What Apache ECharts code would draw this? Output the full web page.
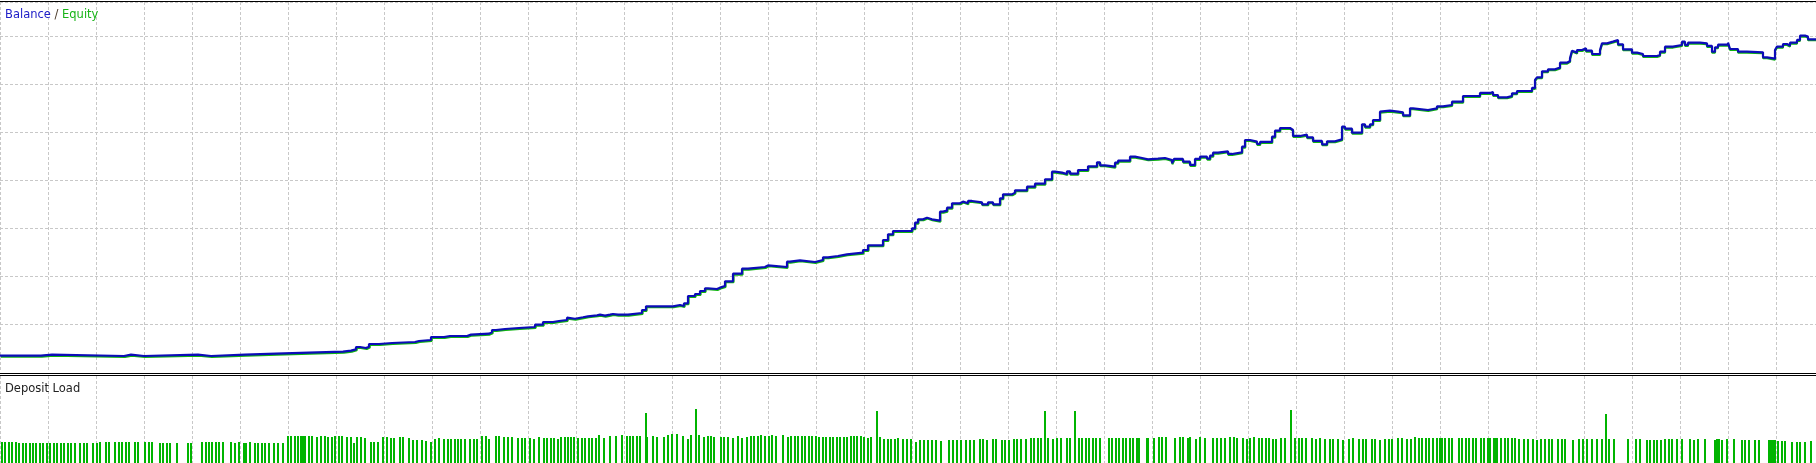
<!DOCTYPE html>
<html>
<head>
<meta charset="utf-8">
<script src="https://cdn.jsdelivr.net/npm/echarts@6/dist/echarts.min.js"></script>
<style>
  html, body { margin: 0; padding: 0; background: #fff; }
  #chart { width: 1816px; height: 463px; }
</style>
</head>
<body>
<div id="chart"></div>
<script>
// deal index (x) and balance after that deal
const balanceDeal = [
  0, 41, 52, 124, 131, 144, 198, 211, 245, 276,
  309, 343, 351, 356, 360, 366, 369, 379, 392, 415,
  419, 431, 444, 450, 452, 467, 471, 489, 492, 496,
  505, 519, 535, 543, 553, 559, 567, 568, 575, 583,
  588, 597, 600, 605, 610, 613, 618, 620, 628, 642,
  646, 673, 680, 684, 688, 695, 700, 705, 708, 717,
  720, 725, 733, 742, 748, 765, 768, 787, 790, 800,
  815, 823, 828, 838, 847, 863, 868, 883, 888, 893,
  912, 915, 918, 923, 927, 932, 940, 943, 947, 952,
  960, 963, 968, 972, 982, 988, 993, 1000, 1003, 1012,
  1015, 1027, 1035, 1045, 1052, 1055, 1062, 1067, 1070, 1078,
  1088, 1097, 1100, 1105, 1115, 1118, 1130, 1135, 1142, 1148,
  1158, 1165, 1172, 1174, 1183, 1190, 1195, 1200, 1207, 1210,
  1213, 1218, 1228, 1232, 1242, 1245, 1250, 1257, 1260, 1272,
  1275, 1280, 1290, 1293, 1300, 1307, 1313, 1322, 1327, 1335,
  1342, 1345, 1352, 1362, 1365, 1370, 1373, 1380, 1382, 1390,
  1398, 1403, 1410, 1413, 1428, 1437, 1443, 1452, 1463, 1480,
  1490, 1493, 1498, 1507, 1512, 1517, 1525, 1527, 1532, 1535,
  1537, 1542, 1548, 1555, 1560, 1567, 1570, 1572, 1574, 1577,
  1582, 1586, 1592, 1600, 1602, 1607, 1613, 1618, 1623, 1632,
  1637, 1643, 1657, 1660, 1665, 1673, 1682, 1685, 1688, 1700,
  1707, 1712, 1715, 1718, 1728, 1730, 1738, 1747, 1763, 1767,
  1775, 1777, 1783, 1787, 1790, 1797, 1800, 1805, 1808, 1816
]
const balance = [
  340, 361, 333, 361, 333, 361, 333, 361, 382, 403,
  424, 444, 472, 521, 500, 528, 583, 604, 625, 646,
  667, 729, 750, 778, 750, 778, 799, 826, 875, 896,
  917, 938, 986, 1042, 1063, 1083, 1132, 1110, 1140, 1160,
  1181, 1194, 1174, 1194, 1208, 1194, 1215, 1194, 1229, 1292,
  1368, 1396, 1375, 1431, 1583, 1625, 1687, 1743, 1729, 1757,
  1792, 1889, 2049, 2153, 2187, 2222, 2187, 2299, 2326, 2292,
  2333, 2389, 2417, 2452, 2486, 2542, 2639, 2750, 2868, 2937,
  2993, 3111, 3181, 3215, 3181, 3153, 3340, 3361, 3423, 3514,
  3549, 3514, 3563, 3535, 3493, 3535, 3493, 3618, 3701, 3736,
  3785, 3861, 3924, 4014, 4174, 4153, 4125, 4181, 4132, 4208,
  4285, 4368, 4306, 4278, 4361, 4403, 4486, 4458, 4431, 4444,
  4458, 4417, 4347, 4438, 4382, 4313, 4438, 4486, 4444, 4507,
  4569, 4597, 4542, 4576, 4694, 4833, 4799, 4750, 4792, 4903,
  5028, 5083, 5042, 4917, 4944, 4889, 4813, 4743, 4806, 4847,
  5111, 5069, 4986, 5160, 5111, 5160, 5250, 5424, 5444, 5424,
  5410, 5347, 5493, 5458, 5493, 5535, 5563, 5632, 5750, 5813,
  5833, 5771, 5722, 5750, 5806, 5854, 5889, 5854, 5917, 6083,
  6139, 6264, 6306, 6340, 6444, 6479, 6535, 6694, 6653, 6708,
  6743, 6694, 6625, 6708, 6847, 6882, 6917, 6826, 6722, 6653,
  6625, 6583, 6604, 6674, 6778, 6813, 6882, 6813, 6861, 6847,
  6792, 6674, 6764, 6819, 6861, 6729, 6674, 6660, 6556, 6528,
  6708, 6778, 6833, 6799, 6861, 6917, 7007, 6986, 6931, 6931
]

// deposit load per deal
const loadDeal = [
  2, 5, 9, 12, 16,
  19, 23, 26, 30, 33, 36, 40,
  43, 47, 50, 54, 57, 61, 64, 68, 71, 75,
  80, 84, 87, 93, 97,
  100, 106, 109, 115, 119, 122, 126, 129, 135, 138, 145, 149, 152,
  160, 163, 167, 170, 177, 188, 191,
  202, 206, 209, 212, 216, 219, 223,
  231, 235, 239, 244, 246, 250,
  255, 258, 262, 265, 269, 274, 278, 283,
  288, 291, 295, 298, 301, 303, 305, 309, 312, 317, 321, 325, 328, 332, 335, 339, 342, 347, 351, 354, 357, 361, 365,
  371, 374, 378,
  383, 387, 391, 394, 400, 403, 409, 413, 417, 422, 426, 431, 435, 439, 444,
  448, 451, 455, 458, 461, 465, 470, 474, 477, 482, 486, 489, 496, 499,
  504, 508, 512, 518, 522, 525, 530, 534, 539, 544, 547, 551, 554, 558,
  561, 565, 568, 571, 574, 578, 582, 585, 589, 592, 596, 599, 604,
  610, 616, 622, 627, 630, 633, 637, 640, 646, 647, 653, 657, 664, 668, 672, 677, 683, 688, 691, 696, 699,
  704, 708, 711, 714, 721, 724, 728, 733, 738, 742, 747, 751, 754, 758, 761, 765, 769, 772, 776,
  783, 788, 791, 795, 798, 802, 805, 809, 812, 816, 819, 823, 826, 830, 833, 837, 840, 844, 847,
  851, 854, 857, 861, 864, 868, 871, 877, 880, 884, 888, 891, 895, 898, 903, 907,
  911, 916, 920, 924, 928, 932, 936, 941, 949, 953, 957, 961, 966, 970, 974,
  980, 983, 987, 993, 996, 1002, 1005, 1009, 1014, 1017, 1021, 1026,
  1031, 1034, 1038, 1041, 1045, 1048, 1053, 1057, 1061, 1067, 1070, 1075,
  1079, 1082, 1086, 1089, 1093, 1096, 1100, 1109, 1112, 1116, 1119, 1123, 1126, 1130, 1133, 1137, 1139,
  1147, 1148, 1154, 1159, 1162, 1166, 1175, 1180, 1183, 1188, 1190, 1196, 1200, 1205,
  1213, 1217, 1221, 1225, 1230, 1234, 1237, 1243, 1247, 1250, 1254,
  1259, 1262, 1266, 1269, 1273, 1276, 1281, 1285, 1291, 1295, 1299, 1302, 1306,
  1312, 1316, 1320, 1325, 1330, 1333, 1338, 1343, 1349, 1353, 1359, 1363, 1366, 1372, 1375, 1380,
  1385, 1389, 1392, 1398, 1402, 1407, 1411, 1415, 1419, 1422, 1426, 1429, 1433,
  1437, 1440, 1442, 1445, 1449, 1452, 1459, 1462, 1466, 1469, 1473, 1476,
  1481, 1484, 1488, 1490, 1494, 1496, 1497, 1501, 1505, 1508, 1512, 1515,
  1519, 1524, 1528, 1533, 1537, 1541, 1545, 1549, 1552, 1558, 1562, 1565,
  1573, 1579, 1583, 1587, 1592, 1597, 1602, 1606, 1609, 1614, 1628, 1636, 1640,
  1647, 1650, 1654, 1657, 1661, 1665, 1669, 1672, 1677, 1682, 1690, 1694, 1698,
  1705, 1715, 1717, 1719, 1722, 1727, 1734, 1742, 1745, 1749, 1755, 1759,
  1769, 1771, 1773, 1775, 1778, 1782, 1785, 1792, 1797, 1800, 1805, 1811
]
const depositLoad = [
  21, 21, 21, 21, 21,
  20, 20, 20, 20, 20, 20, 20,
  20, 20, 20, 20, 20, 20, 20, 20, 20, 20,
  20, 20, 20, 20, 20,
  21, 21, 21, 21, 21, 21, 21, 21, 21, 21, 21, 21, 21,
  20, 20, 20, 20, 20, 20, 20,
  21, 21, 21, 21, 21, 21, 21,
  21, 20, 21, 20, 20, 21,
  20, 20, 20, 20, 20, 20, 20, 20,
  27, 27, 27, 27, 27, 27, 27, 27, 27, 26, 27, 27, 26, 26, 27, 27, 27, 26, 26, 20, 26, 26, 25,
  21, 21, 21,
  26, 26, 25, 25, 26, 26, 25, 23, 23, 23, 22, 21, 24, 25, 24,
  24, 24, 24, 24, 24, 24, 24, 24, 24, 27, 27, 24, 27, 27,
  26, 26, 26, 25, 25, 25, 25, 24, 26, 25, 25, 25, 25, 24,
  26, 26, 26, 26, 26, 25, 25, 25, 25, 25, 25, 28, 25,
  27, 27, 28, 27, 27, 27, 27, 27, 50, 26, 27, 26, 26, 28, 29, 29, 27, 24, 28, 54, 28,
  26, 27, 27, 26, 26, 26, 26, 25, 27, 25, 26, 27, 27, 27, 28, 27, 27, 28, 27,
  28, 26, 27, 27, 27, 27, 27, 27, 27, 27, 26, 26, 26, 26, 26, 26, 26, 26, 26,
  27, 27, 27, 27, 26, 25, 26, 52, 26, 24, 24, 24, 24, 25, 24, 24,
  24, 21, 23, 23, 23, 23, 23, 22, 23, 23, 23, 23, 23, 23, 23,
  24, 24, 23, 24, 24, 23, 23, 23, 24, 24, 24, 24,
  25, 25, 25, 25, 52, 25, 24, 25, 25, 25, 25, 52,
  25, 25, 25, 25, 25, 25, 25, 25, 25, 25, 25, 25, 25, 25, 25, 25, 25,
  25, 25, 25, 26, 26, 26, 25, 26, 26, 25, 26, 24, 26, 25,
  25, 25, 25, 25, 26, 26, 25, 25, 24, 25, 26,
  25, 25, 25, 25, 24, 24, 25, 25, 53, 25, 25, 25, 25,
  25, 24, 25, 24, 24, 24, 24, 23, 24, 25, 24, 24, 24, 24, 24, 23,
  24, 24, 24, 25, 25, 24, 24, 26, 25, 25, 25, 25, 25,
  25, 25, 25, 25, 25, 25, 25, 25, 25, 25, 25, 25,
  25, 25, 25, 25, 25, 25, 25, 25, 25, 25, 25, 25,
  24, 24, 24, 24, 23, 24, 24, 24, 24, 24, 24, 24,
  23, 24, 24, 24, 24, 24, 24, 49, 24, 24, 24, 24, 24,
  23, 23, 23, 23, 23, 24, 24, 24, 24, 24, 24, 23, 24,
  24, 23, 24, 24, 23, 24, 24, 23, 23, 23, 23, 23,
  23, 23, 23, 23, 22, 22, 22, 21, 21, 21, 21, 22
]

const blue = '#0c0cb8'
const green = '#10b410'
const gridColor = '#c8c8c8'

let chart = echarts.init(document.getElementById('chart'), null, { renderer: 'canvas' })

const balanceData = balanceDeal.map((d, i) => [d, balance[i]])
const loadData = loadDeal.map((d, i) => [d, depositLoad[i]])

// shared x scale; the second grid only carries the equity trace
function plainX(grid, withLines) {
  return {
    gridIndex: grid, type: 'value', min: 0, max: 1816, interval: 48,
    show: withLines,
    axisLine: { show: false }, axisTick: { show: false }, axisLabel: { show: false },
    splitLine: { show: withLines, lineStyle: { color: gridColor, width: 1, type: [3, 2] } }
  }
}

var option = {
  animation: false,
  backgroundColor: '#fff',
  title: [{
    text: '{b|Balance} {s|/} {e|Equity}',
    left: 5,
    top: 9,
    padding: 0,
    textStyle: {
      fontFamily: 'DejaVu Sans', fontSize: 11.5, fontWeight: 'normal',
      rich: {
        b: { color: '#2020c8', fontFamily: 'DejaVu Sans', fontSize: 11.5 },
        s: { color: '#4a3a2a', fontFamily: 'DejaVu Sans', fontSize: 11.5 },
        e: { color: '#18b418', fontFamily: 'DejaVu Sans', fontSize: 11.5 }
      }
    }
  }, {
    text: 'Deposit Load',
    left: 5,
    top: 383,
    padding: 0,
    textStyle: { fontFamily: 'DejaVu Sans', fontSize: 11.5, fontWeight: 'normal', color: '#222' }
  }],
  grid: [
    { left: 0, top: 2, width: 1816, height: 370 },
    { left: 1, top: 3, width: 1816, height: 370 },
    { left: 0, top: 376, width: 1816, height: 87 }
  ],
  xAxis: [plainX(0, true), plainX(1, false), plainX(2, true)],
  yAxis: [
    {
      gridIndex: 0, type: 'value', min: 0, max: 7708, interval: 1000,
      axisLine: { show: false }, axisTick: { show: false }, axisLabel: { show: false },
      splitLine: { lineStyle: { color: gridColor, width: 1, type: [3, 2] } }
    },
    { gridIndex: 1, type: 'value', min: 0, max: 7708, show: false, splitLine: { show: false } },
    {
      gridIndex: 2, type: 'value', min: 0, max: 87,
      axisLine: { show: false }, axisTick: { show: false }, axisLabel: { show: false },
      splitLine: { show: false }
    }
  ],
  series: [
    {
      name: 'Equity', type: 'line', xAxisIndex: 1, yAxisIndex: 1,
      step: 'end', symbol: 'none', z: 2,
      lineStyle: { color: green, width: 2 },
      data: balanceData
    },
    {
      name: 'Balance', type: 'line', xAxisIndex: 0, yAxisIndex: 0,
      step: 'end', symbol: 'none', z: 3,
      lineStyle: { color: blue, width: 2.2 },
      data: balanceData
    },
    {
      name: 'Deposit Load', type: 'bar', xAxisIndex: 2, yAxisIndex: 2,
      barWidth: 2,
      itemStyle: { color: '#00b400' },
      data: loadData
    }
  ],
  graphic: [
    { type: 'line', z: 100, shape: { x1: 0, y1: 1.5, x2: 1816, y2: 1.5 }, style: { stroke: '#000', lineWidth: 1 } },
    { type: 'rect', z: 99, shape: { x: 0, y: 372, width: 1816, height: 4 }, style: { fill: '#fff' } },
    { type: 'line', z: 100, shape: { x1: 0, y1: 373.5, x2: 1816, y2: 373.5 }, style: { stroke: '#000', lineWidth: 1 } },
    { type: 'line', z: 100, shape: { x1: 0, y1: 375.5, x2: 1816, y2: 375.5 }, style: { stroke: '#000', lineWidth: 1 } }
  ]
}

chart.setOption(option)
</script>
</body>
</html>
